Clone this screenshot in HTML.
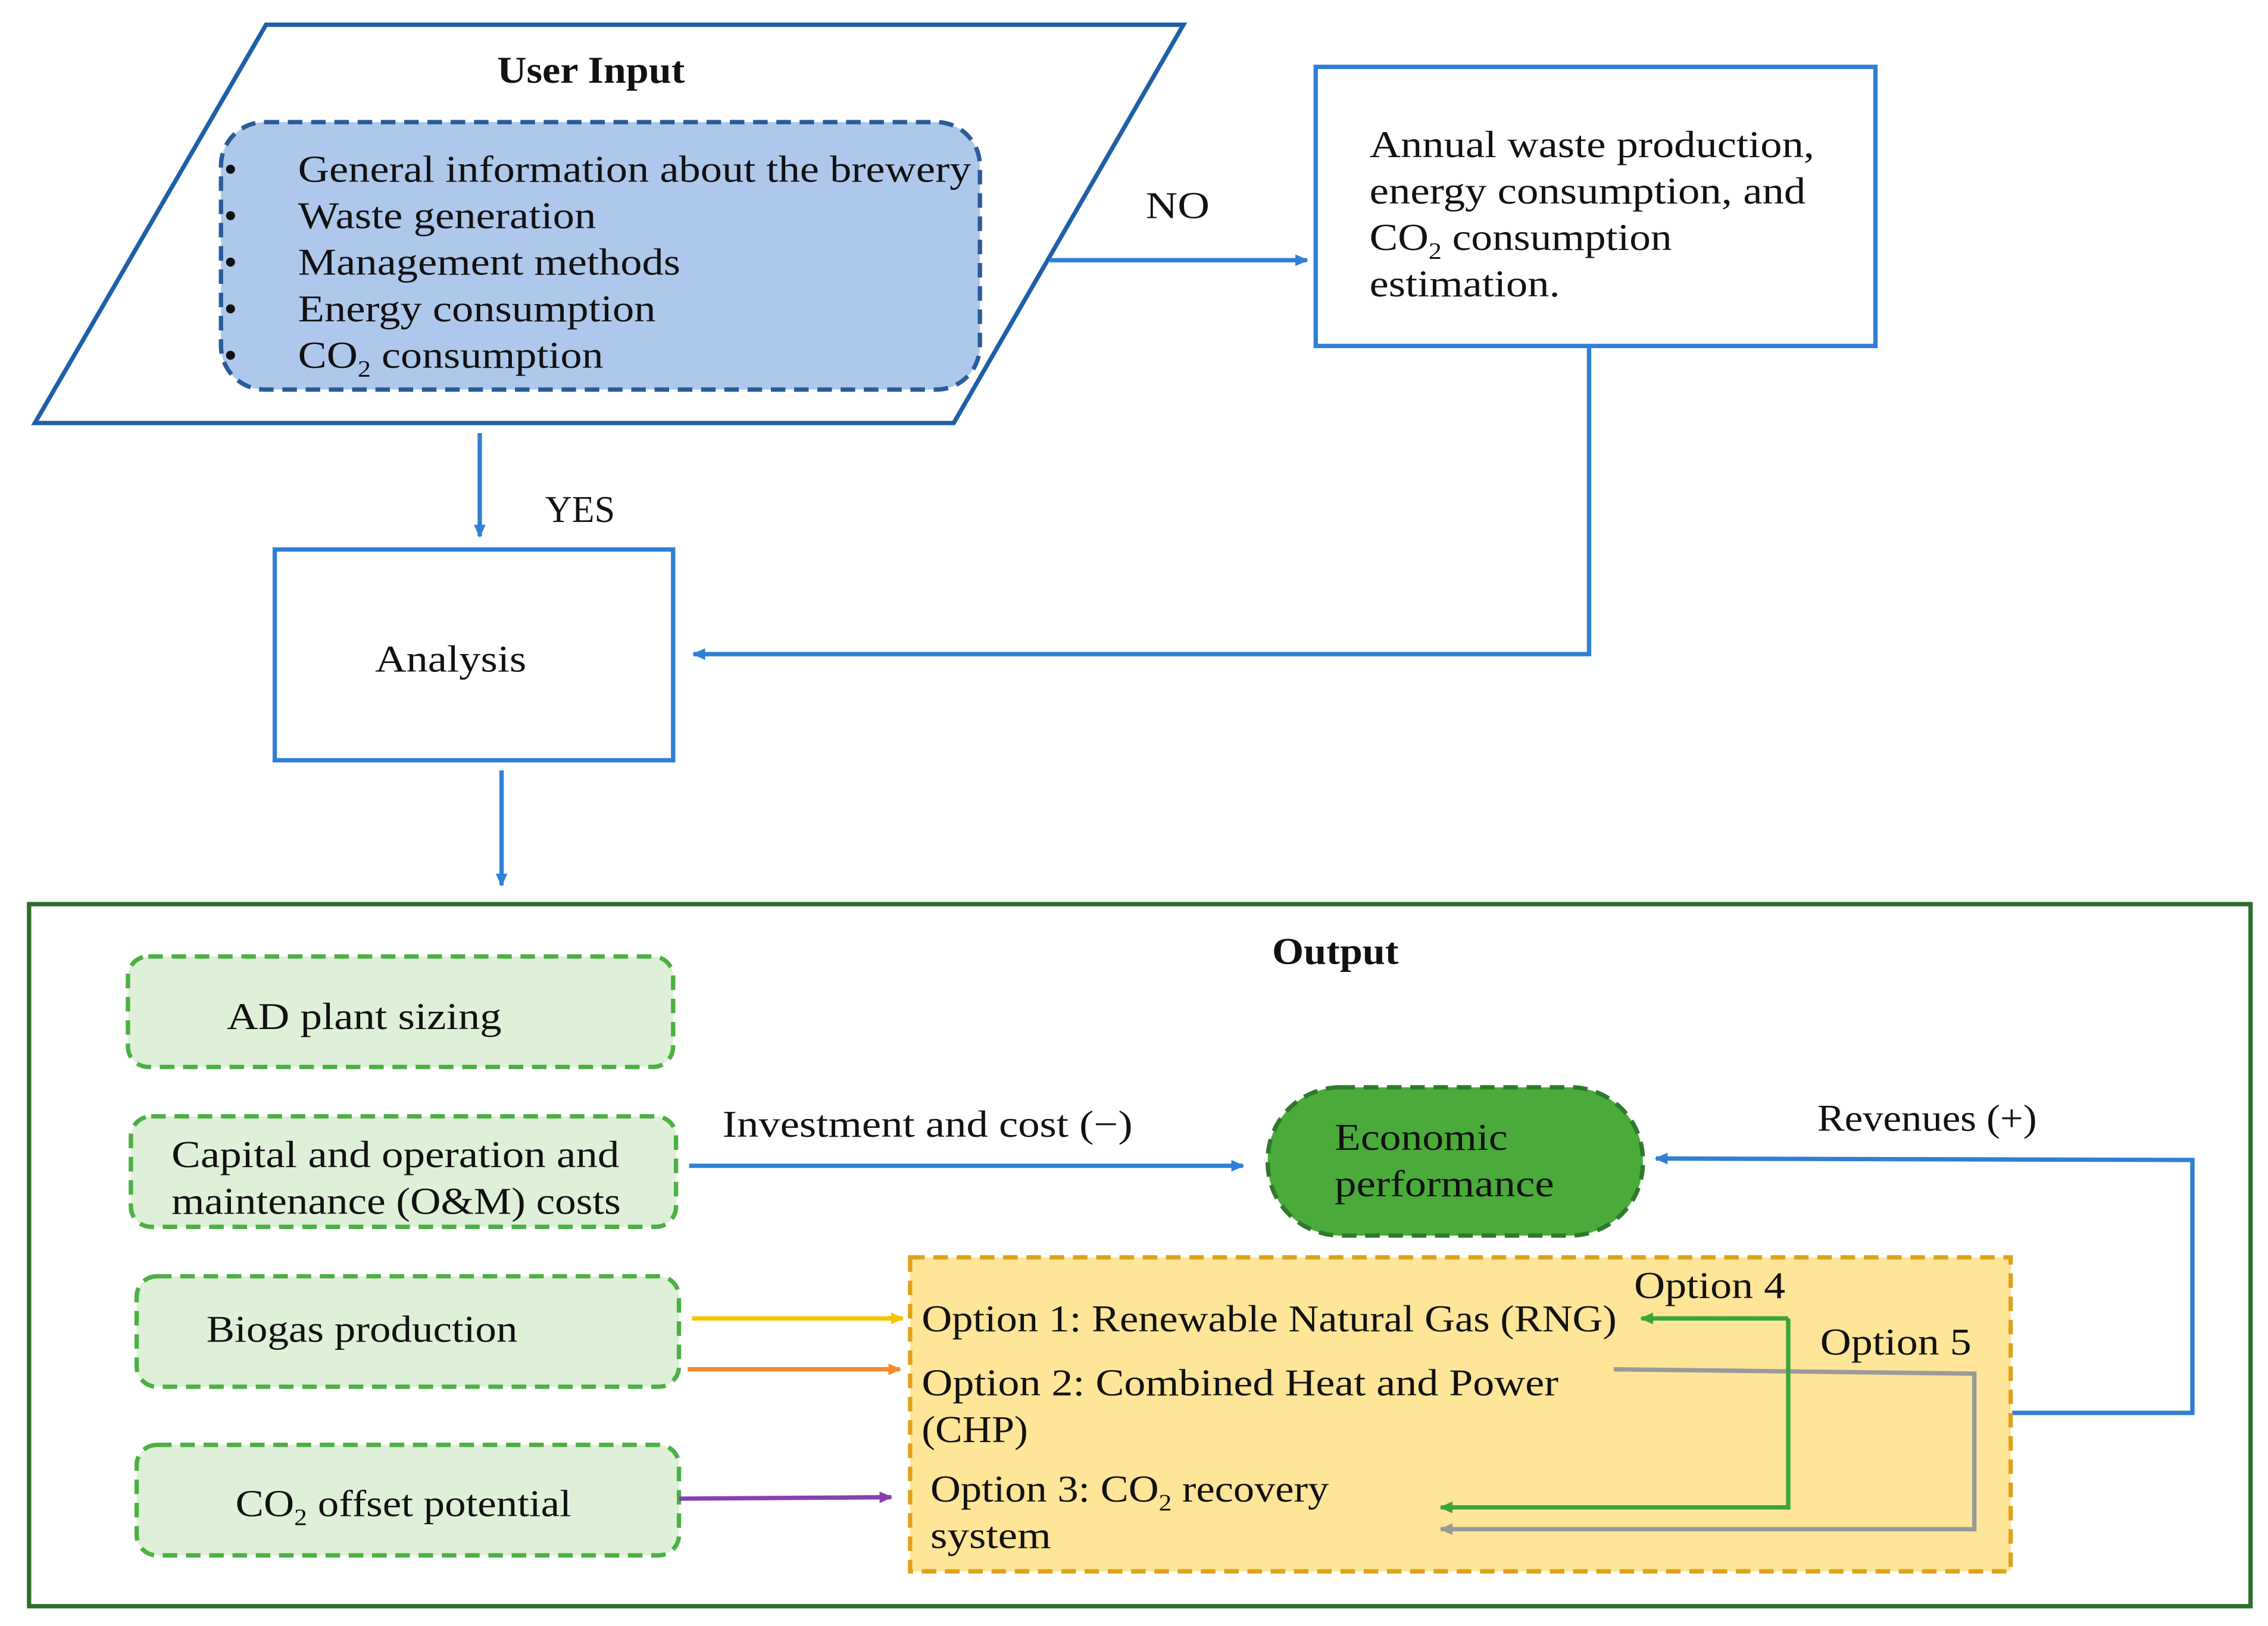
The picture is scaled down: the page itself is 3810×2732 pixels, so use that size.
<!DOCTYPE html>
<html><head><meta charset="utf-8"><style>
html,body{margin:0;padding:0;background:#fff}
svg{display:block}
text{font-family:"Liberation Serif",serif;font-size:26px;fill:#111}
</style></head><body>
<svg width="3810" height="2732" viewBox="0 0 1560 1118.6" xmlns="http://www.w3.org/2000/svg">
<defs>
<marker id="ab" markerWidth="10" markerHeight="10" refX="8" refY="5" orient="auto" markerUnits="userSpaceOnUse"><path d="M0,1 L9,5 L0,9 Z" fill="#2f7fd6"/></marker>
<marker id="ay" markerWidth="10" markerHeight="10" refX="8" refY="5" orient="auto" markerUnits="userSpaceOnUse"><path d="M0,1 L9,5 L0,9 Z" fill="#f5c400"/></marker>
<marker id="ao" markerWidth="10" markerHeight="10" refX="8" refY="5" orient="auto" markerUnits="userSpaceOnUse"><path d="M0,1 L9,5 L0,9 Z" fill="#f58a2a"/></marker>
<marker id="ap" markerWidth="10" markerHeight="10" refX="8" refY="5" orient="auto" markerUnits="userSpaceOnUse"><path d="M0,1 L9,5 L0,9 Z" fill="#8a3fb0"/></marker>
<marker id="ag" markerWidth="10" markerHeight="10" refX="8" refY="5" orient="auto" markerUnits="userSpaceOnUse"><path d="M0,1 L9,5 L0,9 Z" fill="#3aa53a"/></marker>
<marker id="ar" markerWidth="10" markerHeight="10" refX="8" refY="5" orient="auto" markerUnits="userSpaceOnUse"><path d="M0,1 L9,5 L0,9 Z" fill="#9a9a9a"/></marker>
</defs>
<polygon points="183,17 814,17 656,291 24,291" fill="#fff" stroke="#1f5fa8" stroke-width="3"/>
<text x="342" y="57" font-weight="bold" textLength="129" lengthAdjust="spacingAndGlyphs">User Input</text>
<rect x="152" y="84" width="522" height="184" rx="30" fill="#adc8ea" stroke="#2a5b9a" stroke-width="3" stroke-dasharray="10,6"/>
<g>
<text x="154" y="125">•</text><text x="205" y="125" textLength="463" lengthAdjust="spacingAndGlyphs">General information about the brewery</text>
<text x="154" y="157">•</text><text x="205" y="157" textLength="205" lengthAdjust="spacingAndGlyphs">Waste generation</text>
<text x="154" y="189">•</text><text x="205" y="189" textLength="263" lengthAdjust="spacingAndGlyphs">Management methods</text>
<text x="154" y="221">•</text><text x="205" y="221" textLength="246" lengthAdjust="spacingAndGlyphs">Energy consumption</text>
<text x="154" y="253">•</text><text x="205" y="253" textLength="210" lengthAdjust="spacingAndGlyphs">CO<tspan font-size="16" dy="6">2</tspan><tspan dy="-6"> consumption</tspan></text>
</g>
<line x1="722" y1="179" x2="899" y2="179" stroke="#2f7fd6" stroke-width="3" marker-end="url(#ab)"/>
<text x="788" y="150" textLength="44" lengthAdjust="spacingAndGlyphs">NO</text>
<rect x="905" y="46" width="385" height="192" fill="#fff" stroke="#2f7fd6" stroke-width="3"/>
<text x="942" y="108" textLength="306" lengthAdjust="spacingAndGlyphs">Annual waste production,</text>
<text x="942" y="140" textLength="300" lengthAdjust="spacingAndGlyphs">energy consumption, and</text>
<text x="942" y="172" textLength="208" lengthAdjust="spacingAndGlyphs">CO<tspan font-size="16" dy="6">2</tspan><tspan dy="-6"> consumption</tspan></text>
<text x="942" y="204" textLength="131" lengthAdjust="spacingAndGlyphs">estimation.</text>
<polyline points="1093,238 1093,450 477,450" fill="none" stroke="#2f7fd6" stroke-width="3" marker-end="url(#ab)"/>
<line x1="330" y1="298" x2="330" y2="369" stroke="#2f7fd6" stroke-width="3" marker-end="url(#ab)"/>
<text x="375" y="359" textLength="48" lengthAdjust="spacingAndGlyphs">YES</text>
<rect x="189" y="378" width="274" height="145" fill="#fff" stroke="#2f7fd6" stroke-width="3"/>
<text x="258" y="462" textLength="104" lengthAdjust="spacingAndGlyphs">Analysis</text>
<line x1="345" y1="530" x2="345" y2="609" stroke="#2f7fd6" stroke-width="3" marker-end="url(#ab)"/>
<rect x="20" y="622" width="1528" height="483" fill="#fff" stroke="#2e6e2e" stroke-width="3"/>
<text x="875" y="663" font-weight="bold" textLength="87" lengthAdjust="spacingAndGlyphs">Output</text>
<g fill="#dff0d8" stroke="#4cb043" stroke-width="3" stroke-dasharray="10,6">
<rect x="88" y="658" width="375" height="76" rx="14"/>
<rect x="90" y="768" width="375" height="76" rx="14"/>
<rect x="94" y="878" width="373" height="76" rx="14"/>
<rect x="94" y="994" width="373" height="76" rx="14"/>
</g>
<text x="156" y="708" textLength="189" lengthAdjust="spacingAndGlyphs">AD plant sizing</text>
<text x="118" y="803" textLength="308" lengthAdjust="spacingAndGlyphs">Capital and operation and</text>
<text x="118" y="835" textLength="309" lengthAdjust="spacingAndGlyphs">maintenance (O&amp;M) costs</text>
<text x="142" y="923" textLength="214" lengthAdjust="spacingAndGlyphs">Biogas production</text>
<text x="162" y="1043" textLength="231" lengthAdjust="spacingAndGlyphs">CO<tspan font-size="16" dy="6">2</tspan><tspan dy="-6"> offset potential</tspan></text>
<rect x="872" y="748" width="258" height="102" rx="50" fill="#4aab3a" stroke="#2e7a2a" stroke-width="3" stroke-dasharray="10,6"/>
<text x="918" y="791" textLength="119" lengthAdjust="spacingAndGlyphs">Economic</text>
<text x="918" y="823" textLength="151" lengthAdjust="spacingAndGlyphs">performance</text>
<line x1="474" y1="802" x2="855" y2="802" stroke="#2f7fd6" stroke-width="3" marker-end="url(#ab)"/>
<text x="497" y="782" textLength="282" lengthAdjust="spacingAndGlyphs">Investment and cost (−)</text>
<polyline points="1384,972 1508,972 1508,798 1139,797" fill="none" stroke="#2f7fd6" stroke-width="3" marker-end="url(#ab)"/>
<text x="1250" y="778" textLength="151" lengthAdjust="spacingAndGlyphs">Revenues (+)</text>
<rect x="626" y="865" width="757" height="216" fill="#fee597" stroke="#e0a21a" stroke-width="3" stroke-dasharray="10,6"/>
<line x1="476" y1="907" x2="621" y2="907" stroke="#f5c400" stroke-width="3" marker-end="url(#ay)"/>
<line x1="473" y1="942" x2="619" y2="942" stroke="#f58a2a" stroke-width="3" marker-end="url(#ao)"/>
<line x1="467" y1="1031" x2="613" y2="1030" stroke="#8a3fb0" stroke-width="3" marker-end="url(#ap)"/>
<text x="634" y="916" textLength="478" lengthAdjust="spacingAndGlyphs">Option 1: Renewable Natural Gas (RNG)</text>
<text x="634" y="960" textLength="438" lengthAdjust="spacingAndGlyphs">Option 2: Combined Heat and Power</text>
<text x="634" y="992" textLength="73" lengthAdjust="spacingAndGlyphs">(CHP)</text>
<text x="640" y="1033" textLength="274" lengthAdjust="spacingAndGlyphs">Option 3: CO<tspan font-size="16" dy="6">2</tspan><tspan dy="-6"> recovery</tspan></text>
<text x="640" y="1065" textLength="83" lengthAdjust="spacingAndGlyphs">system</text>
<polyline points="1110,942 1358,945 1358,1052 991,1052" fill="none" stroke="#9a9a9a" stroke-width="3" marker-end="url(#ar)"/>
<line x1="1230" y1="907" x2="1129" y2="907" stroke="#3aa53a" stroke-width="3" marker-end="url(#ag)"/>
<polyline points="1230,907 1230,1037 991,1037" fill="none" stroke="#3aa53a" stroke-width="3" marker-end="url(#ag)"/>
<text x="1124" y="893" textLength="104" lengthAdjust="spacingAndGlyphs">Option 4</text>
<text x="1252" y="932" textLength="104" lengthAdjust="spacingAndGlyphs">Option 5</text>
</svg>
</body></html>
